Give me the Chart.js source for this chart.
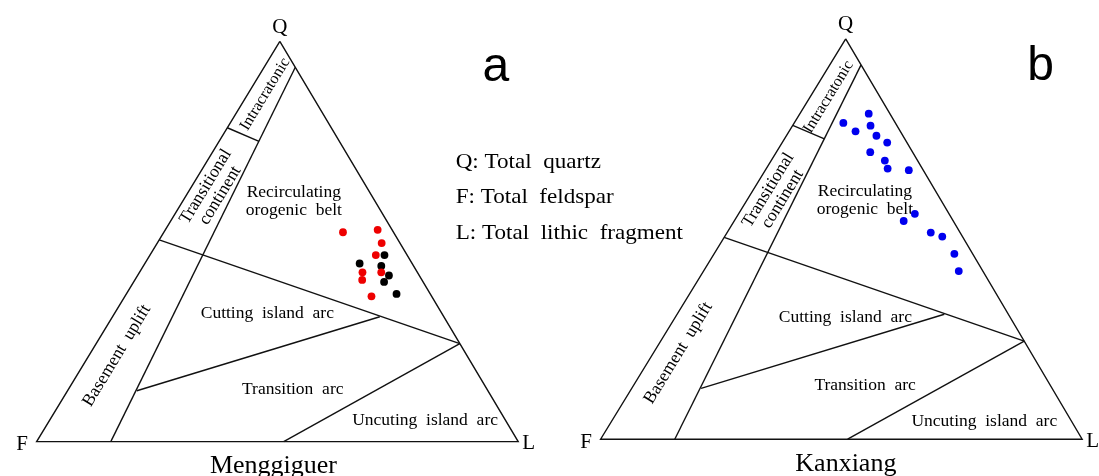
<!DOCTYPE html>
<html>
<head>
<meta charset="utf-8">
<title>QFL provenance diagrams</title>
<script src="https://cdn.jsdelivr.net/npm/chart.js@4.4.0/dist/chart.umd.min.js"></script>
<style>
  html, body { margin: 0; padding: 0; background: #ffffff; }
  canvas { display: block; }
</style>
</head>
<body>
<canvas id="qfl" width="1099" height="476"></canvas>
<script>
// ---- Sample compositions (percent of Q, F, L) ----
// Menggiguer, red group
const menggiguerRedQ = [52.3, 52.9, 49.6, 46.6, 42.3, 40.4, 42.3, 36.3];
const menggiguerRedF = [10.5, 3.0, 3.8, 6.5, 11.4, 12.4, 7.5, 12.5];
const menggiguerRedL = [37.2, 44.1, 46.6, 46.9, 46.3, 47.2, 50.2, 51.2];
// Menggiguer, black group
const menggiguerBlackQ = [46.6, 44.5, 43.9, 41.5, 39.9, 36.9];
const menggiguerBlackF = [4.7, 10.9, 6.7, 6.3, 8.1, 7.0];
const menggiguerBlackL = [48.7, 44.6, 49.4, 52.2, 52.0, 56.1];
// Kanxiang
const kanxiangQ = [81.3, 79.0, 78.3, 76.9, 75.8, 74.1, 71.7, 69.6, 67.6, 67.2, 56.3, 54.5, 51.6, 50.6, 46.3, 42.0];
const kanxiangF = [4.4, 10.8, 5.5, 9.3, 5.5, 4.1, 8.8, 6.8, 7.2, 3.0, 7.1, 10.3, 6.1, 4.2, 3.8, 5.0];
const kanxiangL = [14.3, 10.2, 16.2, 13.8, 18.7, 21.8, 19.5, 23.6, 25.2, 29.8, 36.6, 35.2, 42.3, 45.2, 49.9, 53.0];

// ---- Field boundaries of the QFL diagram, as [Q, F, L] ----
const frameLine = [[100, 0, 0], [0, 100, 0], [0, 0, 100], [100, 0, 0]];
const continentalBlockLine = [[93.5, 0, 6.5], [0, 84.6, 15.4]];
const cratonInteriorLine = [[78.4, 21.6, 0], [75, 16.7, 8.3]];
const recycledOrogenLine = [[50.4, 49.6, 0], [24.5, 0, 75.5]];
const dissectedArcLine = [[31.2, 13.3, 55.5], [12.7, 72.9, 14.4]];
const undissectedArcLine = [[24.5, 0, 75.5], [0, 48.7, 51.3]];

// ---- Axis text ----
const legendLines = ['Q: Total  quartz', 'F: Total  feldspar', 'L: Total  lithic  fragment'];
const vertexNames = ['Q', 'F', 'L'];

// ---- Two panels share one canvas; each has its own origin and apex skew ----
const panels = [
  {
    tag: 'a', title: 'Menggiguer', x0: 0, y0: 0, skew: 0.505, tagOffset: [216, 26], titleShift: -4,
    fieldLabels: [
      { lines: ['Intracratonic'], q: 0.868, l: 0.036, rotate: true, size: 16 },
      { lines: ['Transitional', 'continent'], q: 0.626, l: 0.05, rotate: true },
      { lines: ['Basement  uplift'], q: 0.215, l: 0.058, rotate: true },
      { lines: ['Recirculating', 'orogenic  belt'], q: 0.6, l: 0.231 },
      { lines: ['Cutting  island  arc'], q: 0.3194, l: 0.3177 },
      { lines: ['Transition  arc'], q: 0.131, l: 0.4657 },
      { lines: ['Uncuting  island  arc'], q: 0.0533, l: 0.7797 }
    ]
  },
  {
    tag: 'b', title: 'Kanxiang', x0: 1.1711, y0: 0.0061, skew: 0.509, tagOffset: [195, 28], titleShift: 4.5,
    fieldLabels: [
      { lines: ['Intracratonic'], q: 0.855, l: 0.038, rotate: true, size: 16 },
      { lines: ['Transitional', 'continent'], q: 0.611, l: 0.052, rotate: true },
      { lines: ['Basement  uplift'], q: 0.215, l: 0.052, rotate: true },
      { lines: ['Recirculating', 'orogenic  belt'], q: 0.597, l: 0.245 },
      { lines: ['Cutting  island  arc'], q: 0.3054, l: 0.3528 },
      { lines: ['Transition  arc'], q: 0.1351, l: 0.4805 },
      { lines: ['Uncuting  island  arc'], q: 0.0455, l: 0.7736 }
    ]
  }
];

// Ternary composition -> cartesian value in the panel's frame
function toXY(panel, q, f, l) {
  const s = q + f + l;
  const qn = q / s, ln = l / s;
  return { x: panel.x0 + ln + qn * panel.skew, y: panel.y0 + qn };
}
function fractionXY(panel, q, l) {
  return { x: panel.x0 + l + q * panel.skew, y: panel.y0 + q };
}

const SERIF = '"Liberation Serif", "Times New Roman", serif';
const datasets = [];

panels.forEach(panel => {
  [frameLine, continentalBlockLine, cratonInteriorLine, recycledOrogenLine, dissectedArcLine, undissectedArcLine]
    .forEach(seg => {
      datasets.push({
        data: seg.map(p => toXY(panel, p[0], p[1], p[2])),
        showLine: true, borderColor: '#111111', borderWidth: 1.4,
        pointRadius: 0, pointHoverRadius: 0, fill: false, tension: 0, order: 2
      });
    });
});

function sampleSet(panel, qs, fs, ls, color) {
  return {
    data: qs.map((q, i) => toXY(panel, q, fs[i], ls[i])),
    showLine: false, pointRadius: 3.9, pointHoverRadius: 3.9,
    backgroundColor: color, borderWidth: 0, order: 0
  };
}
datasets.push(sampleSet(panels[0], menggiguerRedQ, menggiguerRedF, menggiguerRedL, '#ee0000'));
datasets.push(sampleSet(panels[0], menggiguerBlackQ, menggiguerBlackF, menggiguerBlackL, '#000000'));
datasets.push(sampleSet(panels[1], kanxiangQ, kanxiangF, kanxiangL, '#0000ee'));

// Draws vertex names, field names, panel titles, tags and the legend text
const diagramText = {
  id: 'diagramText',
  beforeDatasetsDraw(chart) {
    const { ctx, scales } = chart;
    const px = p => [scales.x.getPixelForValue(p.x), scales.y.getPixelForValue(p.y)];
    ctx.save();
    ctx.fillStyle = '#000';
    ctx.textAlign = 'center';
    ctx.textBaseline = 'middle';
    panels.forEach(panel => {
      const [fx, fy] = px(fractionXY(panel, 0, 0));
      const [lx, ly] = px(fractionXY(panel, 0, 1));
      const [qx, qy] = px(fractionXY(panel, 1, 0));
      const edgeAngle = Math.atan2(qy - fy, qx - fx);

      panel.fieldLabels.forEach(lab => {
        const [cx, cy] = px(fractionXY(panel, lab.q, lab.l));
        ctx.save();
        ctx.translate(cx, cy);
        if (lab.rotate) ctx.rotate(edgeAngle);
        ctx.font = (lab.size || 17.5) + 'px ' + SERIF;
        const lh = lab.rotate ? 17 : 18;
        lab.lines.forEach((t, i) => {
          ctx.fillText(t, 0, (i - (lab.lines.length - 1) / 2) * lh);
        });
        ctx.restore();
      });

      ctx.font = '21px ' + SERIF;
      ctx.fillText(vertexNames[0], qx, qy - 14);
      ctx.fillText(vertexNames[1], fx - 14.5, fy + 3);
      ctx.fillText(vertexNames[2], lx + 10.5, ly + 2);

      ctx.font = '26px ' + SERIF;
      ctx.fillText(panel.title, (fx + lx) / 2 + panel.titleShift, fy + 25);

      ctx.font = '48px "Liberation Sans", Arial, sans-serif';
      ctx.fillText(panel.tag, qx + panel.tagOffset[0], qy + panel.tagOffset[1]);
    });

    // legend text beside panel a
    const a = panels[0];
    const [ax] = px(fractionXY(a, 0, 0));
    ctx.textAlign = 'left';
    ctx.font = '22px ' + SERIF;
    legendLines.forEach((t, i) => {
      ctx.save();
      ctx.translate(ax + 419, 162 + i * 35.5);
      ctx.scale(1.05, 1);
      ctx.fillText(t, 0, 0);
      ctx.restore();
    });
    ctx.restore();
  }
};

new Chart(document.getElementById('qfl'), {
  type: 'scatter',
  data: { datasets },
  options: {
    responsive: false,
    maintainAspectRatio: false,
    animation: false,
    layout: { padding: 0 },
    events: [],
    scales: {
      x: { type: 'linear', display: false, min: -0.068, max: 2.198 },
      y: { type: 'linear', display: false, min: -0.0761, max: 1.0934 }
    },
    plugins: {
      legend: { display: false },
      tooltip: { enabled: false },
      title: { display: false }
    }
  },
  plugins: [diagramText]
});
</script>
</body>
</html>
